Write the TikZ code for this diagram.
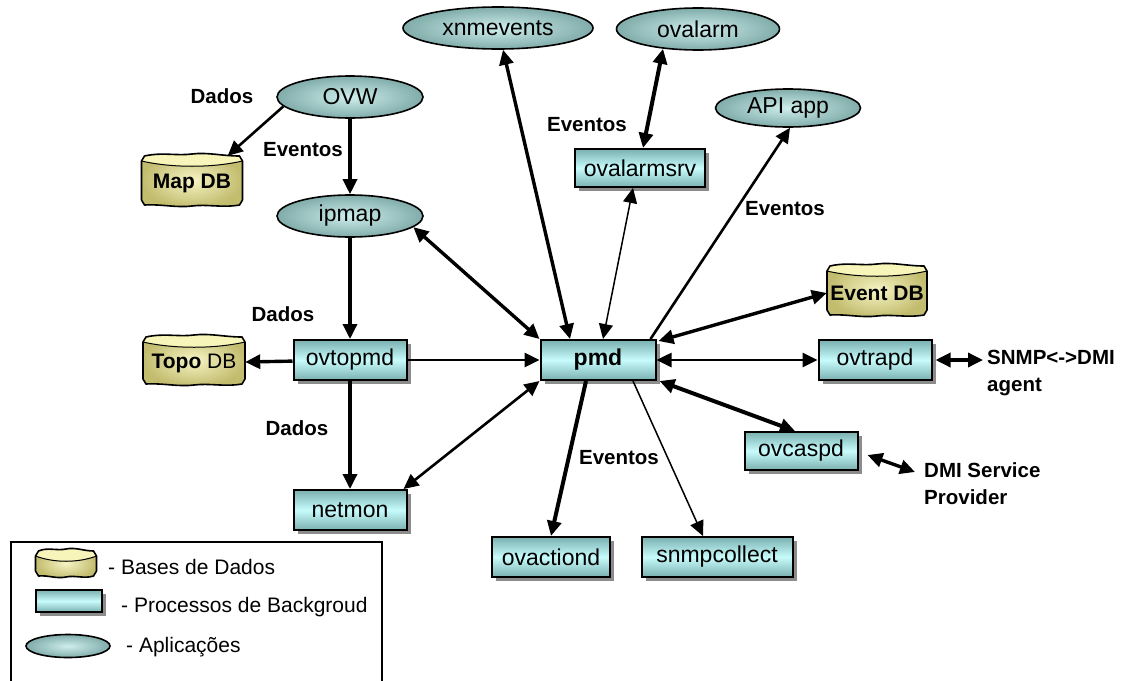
\documentclass[tikz,border=0pt]{standalone}
\usepackage{fontspec}
\setmainfont{Liberation Sans}
\usetikzlibrary{shapes.geometric,arrows.meta,shadows,calc}

\definecolor{appin}{RGB}{206,238,236}
\definecolor{appout}{RGB}{128,172,170}
\definecolor{procin}{RGB}{200,252,252}
\definecolor{procout}{RGB}{122,176,176}
\definecolor{shadowgray}{RGB}{140,140,140}
\definecolor{dbin}{RGB}{246,244,196}
\definecolor{dbout}{RGB}{194,188,110}
\definecolor{dblid}{RGB}{247,245,185}

\newcommand\procfont{\fontsize{23}{27}\selectfont}
\newcommand\tagfont{\fontsize{20.5}{27}\selectfont\bfseries}
\newcommand\keyfont{\fontsize{21}{25}\selectfont}
\newcommand\dbfont{\fontsize{21}{25}\selectfont}

% database cylinder: name, cx, cy, width, height, text
\newcommand\dbnode[6]{%
  \pgfmathsetmacro\dbl{#2-#4/2}%
  \pgfmathsetmacro\dbr{#2+#4/2}%
  \pgfmathsetmacro\dbt{#3-#5/2}%
  \pgfmathsetmacro\dbb{#3+#5/2}%
  \pgfmathsetmacro\dbw{#4}%
  \shade[inner color=dbin, outer color=dbout]
    (\dbl,\dbt+8) -- (\dbl+3,\dbt+3)
    .. controls (\dbl+0.2*\dbw,\dbt-1) and (\dbl+0.35*\dbw,\dbt+3) .. (\dbl+0.5*\dbw,\dbt+1)
    .. controls (\dbl+0.65*\dbw,\dbt-1) and (\dbl+0.8*\dbw,\dbt+3) .. (\dbr-3,\dbt+3)
    -- (\dbr,\dbt+8) -- (\dbr,\dbb-7) -- (\dbr-3,\dbb-2)
    .. controls (\dbr-0.2*\dbw,\dbb+1) and (\dbr-0.35*\dbw,\dbb-3) .. (\dbl+0.5*\dbw,\dbb-1)
    .. controls (\dbl+0.35*\dbw,\dbb+1) and (\dbl+0.2*\dbw,\dbb-3) .. (\dbl+3,\dbb-2)
    -- (\dbl,\dbb-7) -- cycle;
  \fill[dblid]
    (\dbl,\dbt+8) -- (\dbl+3,\dbt+3)
    .. controls (\dbl+0.2*\dbw,\dbt-1) and (\dbl+0.35*\dbw,\dbt+3) .. (\dbl+0.5*\dbw,\dbt+1)
    .. controls (\dbl+0.65*\dbw,\dbt-1) and (\dbl+0.8*\dbw,\dbt+3) .. (\dbr-3,\dbt+3)
    -- (\dbr,\dbt+8)
    .. controls (\dbr-0.3*\dbw,\dbt+15) and (\dbl+0.3*\dbw,\dbt+15) .. cycle;
  \draw[line width=1.6pt, line join=round]
    (\dbl,\dbt+8) -- (\dbl+3,\dbt+3)
    .. controls (\dbl+0.2*\dbw,\dbt-1) and (\dbl+0.35*\dbw,\dbt+3) .. (\dbl+0.5*\dbw,\dbt+1)
    .. controls (\dbl+0.65*\dbw,\dbt-1) and (\dbl+0.8*\dbw,\dbt+3) .. (\dbr-3,\dbt+3)
    -- (\dbr,\dbt+8) -- (\dbr,\dbb-7) -- (\dbr-3,\dbb-2)
    .. controls (\dbr-0.2*\dbw,\dbb+1) and (\dbr-0.35*\dbw,\dbb-3) .. (\dbl+0.5*\dbw,\dbb-1)
    .. controls (\dbl+0.35*\dbw,\dbb+1) and (\dbl+0.2*\dbw,\dbb-3) .. (\dbl+3,\dbb-2)
    -- (\dbl,\dbb-7) -- cycle;
  \draw[line width=1pt]
    (\dbl,\dbt+8) .. controls (\dbl+0.3*\dbw,\dbt+15) and (\dbr-0.3*\dbw,\dbt+15) .. (\dbr,\dbt+8);
  \node[dbtext, minimum width=#4pt, minimum height=#5pt] (#1) at (#2,#3+3) {#6};
}

\tikzset{
  >={Triangle[length=15pt,width=14pt]},
  thin link/.style={line width=1.5pt},
  mid link/.style={line width=2.6pt},
  thick link/.style={line width=3.4pt},
  heavy link/.style={line width=4pt},
  app/.style={ellipse, draw=black, line width=1.6pt, inner color=appin,
    outer color=appout, minimum width=#1pt, minimum height=42pt,
    inner sep=0pt, font=\procfont},
  proc/.style={rectangle, draw=black, line width=2pt, top color=procout,
    bottom color=procout, middle color=procin, minimum width=#1pt,
    minimum height=40pt, inner sep=0pt, font=\procfont,
    drop shadow={shadow xshift=4pt, shadow yshift=-4pt, fill=shadowgray, opacity=1}},
  dbtext/.style={rectangle, draw=none, inner sep=0pt, font=\dbfont},
  tag/.style={inner sep=0pt, font=\tagfont},
  key/.style={inner sep=0pt, anchor=west, font=\keyfont},
}

\begin{document}
\begin{tikzpicture}[x=1pt,y=-1pt]
\useasboundingbox (0,0) rectangle (1131,680);
\fill[white] (0,0) rectangle (1131,680);

% applications
\node[app=190] (xnm) at (498,28) {xnmevents};
\node[app=163] (ovalarm) at (698,29) {ovalarm};
\node[app=145, minimum height=38pt] (apiapp) at (788,108) {API app};
\node[app=146] (ovw) at (350,97) {OVW};
\node[app=146] (ipmap) at (350,216) {ipmap};

% background processes
\node[proc=130, minimum height=38pt] (ovalarmsrv) at (640,168) {ovalarmsrv};
\node[proc=113] (ovtopmd) at (350,360) {ovtopmd};
\node[proc=115, font=\procfont\bfseries] (pmd) at (598,360) {pmd};
\node[proc=113] (ovtrapd) at (875,360) {ovtrapd};
\node[proc=113, minimum height=38pt] (ovcaspd) at (801,451) {ovcaspd};
\node[proc=113] (netmon) at (350,510) {netmon};
\node[proc=118] (ovactiond) at (551,557) {ovactiond};
\node[proc=151] (snmpcollect) at (717,557) {snmpcollect};

% databases
\dbnode{mapdb}{192}{180}{101}{54}{\bfseries Map DB}
\dbnode{topodb}{194}{360}{102}{52}{{\bfseries Topo} DB}
\dbnode{eventdb}{877}{290}{100}{54}{\bfseries Event DB}

% labels
\node[tag] (tdados1) at (222,96) {Dados};
\node[tag] (tev1) at (303,150) {Eventos};
\node[tag] (tdados2) at (283,314) {Dados};
\node[tag] (tdados3) at (297,428) {Dados};
\node[tag] (tev2) at (587,125) {Eventos};
\node[tag] (tev3) at (785,209) {Eventos};
\node[tag] (tev4) at (619,458) {Eventos};
\node[tag, align=left, anchor=west] (snmp) at (987,373) {SNMP<->DMI\\agent};
\node[tag, align=left, anchor=west] (dmi) at (924,484) {DMI Service\\Provider};

% connectors
\draw[->, mid link] (ovw.188) -- ([xshift=-15pt]mapdb.north east);
\draw[->, thick link] (ovw) -- (ipmap);
\draw[->, thick link] (ipmap) -- (ovtopmd);
\draw[<->, thick link] (ipmap.350) -- (pmd.north west);
\draw[->, thick link] (ovtopmd) -- (topodb);
\draw[->, mid link] (ovtopmd) -- (pmd);
\draw[->, thick link] (ovtopmd) -- (netmon);
\draw[<->, mid link] ([xshift=-4pt]netmon.north east) -- (pmd.south west);
\draw[<->, thick link] ([xshift=-28pt]pmd.north) -- (xnm);
\draw[<->, thin link] ([xshift=5pt]pmd.north) -- ([xshift=-7pt]ovalarmsrv.south);
\draw[<->, heavy link] ([xshift=3pt]ovalarmsrv.north) -- ([xshift=-35pt,yshift=2pt]ovalarm.south);
\draw[->, mid link] ([xshift=-6pt]pmd.north east) -- ([xshift=2pt]apiapp.south);
\draw[<->, thick link] ([xshift=2pt,yshift=-2pt]pmd.north east) -- (eventdb.west);
\draw[<->, mid link] (pmd) -- (ovtrapd);
\draw[<->, heavy link] ([xshift=3pt]pmd.south east) -- ([xshift=-6pt]ovcaspd.north);
\draw[<->, thick link] ([xshift=3pt]ovtrapd.east) -- ($(snmp.west)+(-4,-13)$);
\draw[<->, thick link] ([xshift=9pt,yshift=-4pt]ovcaspd.east) -- ($(dmi.west)+(-9,-12)$);
\draw[->, heavy link] ([xshift=-12pt]pmd.south) -- (ovactiond.north);
\draw[->, thin link] ([xshift=35pt]pmd.south) -- ([xshift=-14pt]snmpcollect.north);

% legend
\draw[line width=1.6pt] (11,700) -- (11,542) -- (382,542) -- (382,700);
\dbnode{legdb}{66}{563}{61}{30}{}
\node[proc=66, minimum height=22pt] (legproc) at (69,601) {};
\node[app=84, minimum height=23pt] (legapp) at (68,646) {};
\node[key] (kdb) at (108,567) {- Bases de Dados};
\node[key] (kproc) at (121,607) {- Processos de Backgroud};
\node[key] (kapp) at (126,647) {- Aplicações};
\end{tikzpicture}
\end{document}
